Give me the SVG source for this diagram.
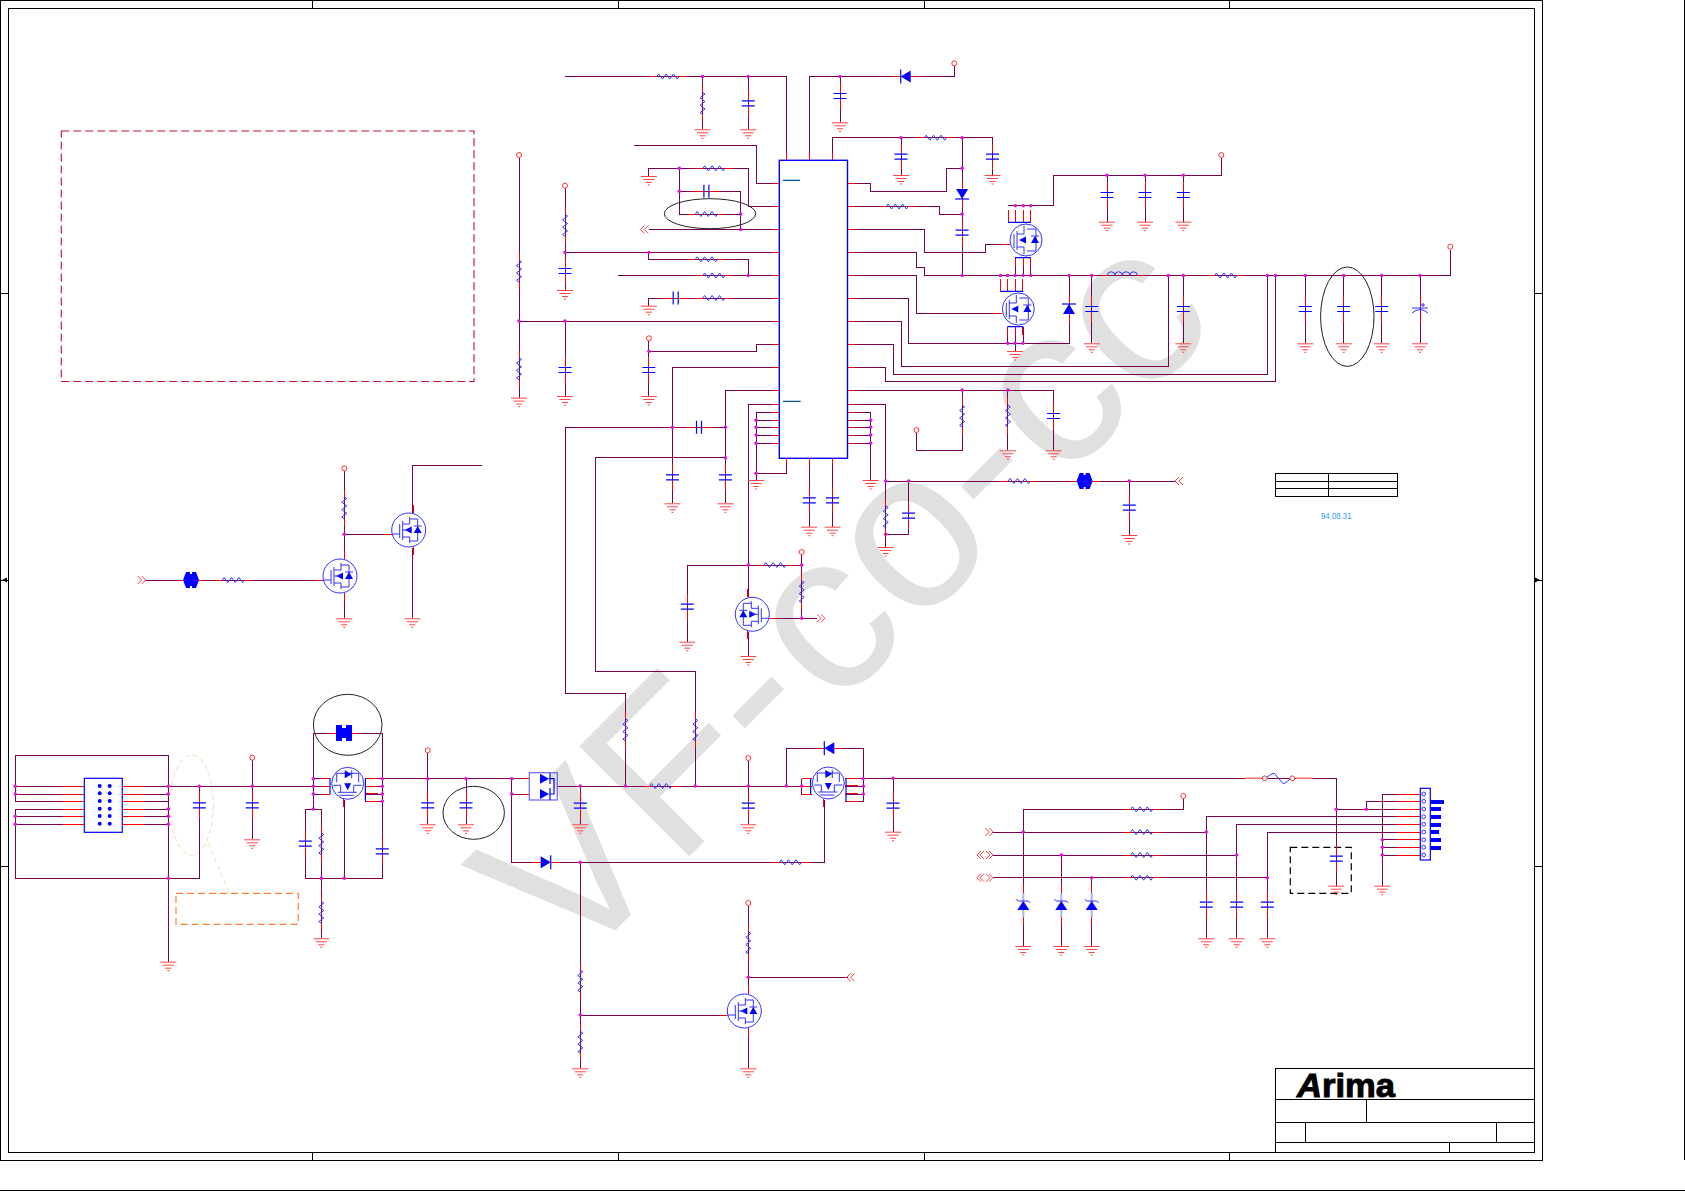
<svg xmlns="http://www.w3.org/2000/svg" width="1685" height="1191" viewBox="0 0 1685 1191">
<style>
.w{fill:none;stroke:#7a0050;stroke-width:1;shape-rendering:crispEdges}
.r{fill:none;stroke:#f00;stroke-width:1;shape-rendering:crispEdges}
.b{fill:none;stroke:#00f;stroke-width:1.2}
.t{fill:none;stroke:#33f;stroke-width:1}
.s{fill:#00f;stroke:none}
.k{fill:none;stroke:#000;stroke-width:1;shape-rendering:crispEdges}
.e{fill:none;stroke:#222;stroke-width:1}
.g{fill:none;stroke:#f44;stroke-width:1}
.a{fill:none;stroke:#f44;stroke-width:1}
</style>
<defs>
<circle id="n" r="1.8" fill="#e010e0"/>
<g id="rh"><path class="r" d="M-18 0H-11M11 0H18"/><path class="t" d="M-11 0l1.8-2.5 3.7 5 3.7-5 3.7 5 3.7-5 3.7 5 1.8-2.5"/></g>
<g id="rv" transform="rotate(90)"><use href="#rh"/></g>
<g id="cv"><path class="r" d="M0-13V-2.5M0 2.5V13"/><path class="b" d="M-6.5-2.5H6.5M-6.5 2.5H6.5"/></g>
<g id="ch" transform="rotate(90)"><use href="#cv"/></g>
<g id="gd"><path class="g" d="M-8 .5H8M-5.5 3.5H5.5M-3 6.5H3"/><path class="g" d="M-1 9H1" stroke-width="1.5"/></g>
<circle id="vc" r="2.5" fill="#fff" stroke="#f33" stroke-width="1"/>
<g id="dl"><path class="r" d="M-13 0H-5M5 0H13"/><path class="s" d="M-5 0L5-6V6z"/><path class="b" d="M-5-7V7"/></g>
<g id="zu"><path d="M0-12V12" fill="none" stroke="#aab0ff" stroke-width="2"/><path class="r" d="M0-20V-12M0 12V20"/><path class="s" d="M-6 5H6L0-4z"/><path class="t" d="M-7-6L-5-4H5L7-2"/></g>
<path id="j1" class="s" d="M-8 0L-5-8H-1V-6H1V-8H5L8 0L5 8H1V6H-1V8H-5z"/>
<path id="j2" class="s" d="M-8-8H-2V-5H2V-8H8V8H2V5H-2V8H-8z"/>
<path id="al" class="a" d="M-1-4L-5 0L-1 4M3-4L-1 0L3 4"/>
<path id="ar" class="a" d="M1-4L5 0L1 4M-3-4L1 0L-3 4"/>
<path id="ab" class="a" d="M-4-4L-8 0L-4 4M-1-4L-5 0L-1 4M4-4L8 0L4 4M1-4L5 0L1 4"/>
<g id="mn"><circle class="t" r="17"/><path class="r" d="M4.3-17V-25M4.3 17V25M-17 4H-25"/><path class="t" d="M1-13V-6H-6M1 13V7H-6M-6-9V10M-9-6V8M-17 4H-9M1-11H9V11H1"/><path class="s" d="M-4 0L3-3.5V3.5zM5 3H13L9-4z"/><path class="t" d="M5-4H13M-6 0H1"/></g>
<g id="mq"><path class="r" d="M-18-18V-30M-10.6-18V-30M-2.8-18V-30M4.7-18V-30M-11 18V26M-3 18V26M4.7 18V26M-16 4.3H-24"/><circle class="t" r="16"/><path class="b" d="M-18-17.7H5M-11 17.7H5"/><path class="t" d="M-2-14V-6H-9M-2 14V7H-9M-9-9V10M-12-6V8M1-11H10V11H1"/><path class="s" d="M-7 0L0-3.5V3.5zM5 3H13L9-4z"/><path class="t" d="M5-4H13"/></g>
</defs>
<text id="watermark" font-family="Liberation Sans, sans-serif" font-size="226" fill="#e0e0e0" x="0 150.7 288.8 374 487 612.6 695 808" transform="translate(569.7 975.7) rotate(-45)">VF-co-cc</text>
<g id="frame">
<path class="k" d="M.5.5H1542V1160H.5zM8.3 8.6H1534.3V1152H8.3z"/>
<path class="k" d="M312.7.5V8.6M618 .5V8.6M924 .5V8.6M1229.4.5V8.6M312.7 1152V1160M618 1152V1160M924 1152V1160M1229.4 1152V1160M.5 293H8.3M.5 580H8.3M.5 866.7H8.3M1534.3 293H1542M1534.3 580H1542M1534.3 866.7H1542"/>
<path d="M2 580L7 577.5V582.5zM1540 580L1535 577.5V582.5z" fill="#000"/>
<path class="k" d="M1684.5 0V1160M0 1190.5H1685"/>
</g>
<g id="title-block">
<path class="k" d="M1275.3 1068.7H1534.3V1152H1275.3zM1275.3 1099.3H1534.3M1275.3 1122H1534.3M1275.3 1142.3H1534.3M1366.7 1099.3V1122M1305.3 1122V1142.3M1496.3 1122V1142.3M1449.3 1142.3V1152"/>
<text x="1297" y="1096.5" font-family="Liberation Sans, sans-serif" font-weight="700" font-size="34" textLength="98" lengthAdjust="spacingAndGlyphs" stroke="#000" stroke-width="1"><tspan font-style="italic">A</tspan>rima</text>
</g>
<g id="note-box"><rect x="61.3" y="131" width="412.7" height="250.5" fill="none" stroke="#c01030" stroke-width="1.1" stroke-dasharray="8 4"/></g>
<g id="rev-table"><path class="k" d="M1275.3 473.3H1397.3V496.3H1275.3zM1275.3 481.3H1397.3M1275.3 488.3H1397.3M1328.3 473.3V496.3"/></g>
<text id="date" x="1321" y="518.5" font-family="Liberation Sans, sans-serif" font-size="9.5" fill="#39f" textLength="30.5" lengthAdjust="spacingAndGlyphs">94.08.31</text>
<g id="marks">
<ellipse class="e" cx="710" cy="213.7" rx="45.7" ry="15"/>
<ellipse class="e" cx="1347.3" cy="316.7" rx="26.7" ry="49.7"/>
<ellipse class="e" cx="347.7" cy="724.8" rx="34.3" ry="30.5"/>
<ellipse class="e" cx="473.7" cy="812.8" rx="30.7" ry="26.5"/>
<ellipse cx="191.7" cy="805" rx="21.7" ry="50" fill="none" stroke="#ffd8b0" stroke-dasharray="5 3"/>
<path d="M208.3 843.3L229.3 893.3" fill="none" stroke="#ffd8b0" stroke-dasharray="5 3"/>
<rect x="176" y="893.3" width="122.3" height="31" fill="none" stroke="#ff8030" stroke-width="1.2" stroke-dasharray="7 4"/>
<rect x="1290.3" y="847.3" width="61" height="46" fill="none" stroke="#000" stroke-width="1.2" stroke-dasharray="7 4"/>
</g>
<g id="connectors">
<path class="w" d="M565 76.5H786.4V160.3M702.5 76.5V129.3M748.2 76.5V129.3M809.3 160.3V76.5H954.3V66M840 76.5V122.3M832.5 160.3V137.7H992.5V175M901 137.7V175M962.1 137.7V275.5"/>
<path class="w" d="M847.5 183.5H870.7V191.3H946.4V168.3H962.1M847.5 206.5H939.3V214H962.1M847.5 229.5H924.6V252.5H985.7V244.3H1008M847.5 252.5H916.4V267.7H924.6V275.5H1450.3V250M847.5 275.5H916.4V313.3H1000M847.5 298H908.6V343.3H1069V275.5M847.5 321H901.4V366.3H1168.3V275.5M847.5 344H893.6V374.3H1267.3V275.5M847.5 367H885.7V381.7H1275.3V275.5"/>
<path class="w" d="M847.5 390H1053.6V450.3M962.1 390V450.3H916.4V433M1007.9 390V450.3M847.5 404.3H885.7V547M885.7 481H1176M908.6 481V534.3H885.7M847.5 412.3H870.7V480M847.5 420.3H870.7M847.5 427.3H870.7M847.5 435H870.7M847.5 443.3H870.7"/>
<path class="w" d="M779.3 412.3H756.1V480M779.3 420.3H756.1M779.3 427.3H756.1M779.3 435H756.1M779.3 443.3H756.1M786.4 458.3V473.3H756.1M809.3 458.3V526.7M832.5 458.3V526.7"/>
<path class="w" d="M779.3 183.5H756.4V145.7H633.6M779.3 206.5H748.2V168.3H648.9V176M679.3 168.3V214H740.7M679.3 191.3H740.7V229.5M779.3 229.5H649M779.3 252.5H565M565 188V290M648.9 252.5V259.3H748.2V275.5M779.3 275.5H617.9M779.3 298H648.9V305.7M779.3 321H519M519 158V397.6M565 321V396M779.3 344H756.4V351.3H648.9M648.9 341V396"/>
<path class="w" d="M779.3 367H672.5V503.3M779.3 390H725.4V503.3M565.7 427.3H725.4M565.7 427.3V693H625.4V786M725.4 457.7H595.4V671.6H695.3V786M779.3 404.3H748.2V597M687.3 641.7V565H801.7V618.3M801.7 555V565M770 618.3H817M748.3 632V656"/>
<path class="w" d="M1007.9 205.7H1053.6V175.3H1221.3V158M1107 175.3V221.7M1145 175.3V221.7M1183.3 175.3V221.7M1015 258V275.5M1023 258V275.5M1030.7 258V275.5M1015 326.7V351M1007.7 326.7V343.3M1023 326.7V343.3M1091.7 275.5V343.3M1183.3 275.5V343.3M1305.3 275.5V343.3M1343.7 275.5V343.3M1381.7 275.5V343.3M1420 275.5V343.3M1129.3 481V535"/>
<path class="w" d="M145 580H322.7M344.3 471V558M344.3 594V618.3M344.3 534.3H391.7M412.3 512.7V465.3H481.7M412.3 548.3V618.3"/>
<path class="w" d="M15.3 786.3H84.3M15.3 794H84.3M15.3 801.3H84.3M15.3 809H84.3M15.3 816.3H84.3M15.3 824.3H84.3M122.3 786.3H168.3M122.3 794H168.3M122.3 801.3H168.3M122.3 809H168.3M122.3 816.3H168.3M122.3 824.3H168.3M15.3 801.3V755.3H168.3V961.7M15.3 809V878.3H199.3V786.3M168.3 786.3H313.3M252.3 760V839.3M313.3 809V733H382.3V878.3H305.3V809H321.3V938.3M313.3 778.7H330M313.3 786.3H330M313.3 794H330M365 778.7H382.3M365 786.3H382.3M365 794H382.3M365 801.3H382.3M344.3 800V878.3"/>
<path class="w" d="M382.3 778.7H529.3M511.7 778.7V862.3H824.3V800M511.7 794H529.3M427.7 753V824.3M466 778.7V824.3M557.3 786H811.7M580.3 786V824.3M748.3 761V824.3M786.3 786V748.3H863.3V801.3H845M845 778.7H863.3M845 786.3H863.3M845 794H863.3M801.7 778.7H811.7M801.7 778.7V794H811.7M863.3 778.3H1336.3V885.7M893 778.3V831.7M580.3 862.3V1068.3M580.3 1015H726.7M748.3 906V993M748.3 1030V1068.3M748.3 977.3H848"/>
<path class="w" d="M1183.3 799V809.3H1023.3V946M992 832H1206.3M993 855H1236.7M993 877.7H1267.3M1061.3 855V946M1091.7 877.7V946M1206.3 816.7H1420M1206.3 816.7V938.3M1236.7 824.3H1420M1236.7 824.3V938.3M1267.3 832H1420M1267.3 832V938.3M1336.3 809.3H1420M1366.3 809.3V801.3H1420M1382.3 794H1420M1382.3 794V885.7M1382.3 839.7H1420M1382.3 847.3H1420M1382.3 855H1420"/>
<g id="junctions">
<use href="#n" x="702.5" y="76.5"/><use href="#n" x="748.2" y="76.5"/><use href="#n" x="840" y="76.5"/><use href="#n" x="901" y="137.7"/><use href="#n" x="962.1" y="137.7"/><use href="#n" x="962.1" y="168.3"/><use href="#n" x="962.1" y="214"/><use href="#n" x="962.1" y="275.5"/>
<use href="#n" x="679.3" y="168.3"/><use href="#n" x="679.3" y="191.3"/><use href="#n" x="740.7" y="214"/><use href="#n" x="740.7" y="229.5"/><use href="#n" x="565" y="252.5"/><use href="#n" x="648.9" y="252.5"/><use href="#n" x="748.2" y="275.5"/><use href="#n" x="519" y="321"/><use href="#n" x="565" y="321"/><use href="#n" x="648.9" y="351.3"/><use href="#n" x="672.5" y="427.3"/><use href="#n" x="725.4" y="427.3"/><use href="#n" x="725.4" y="457.7"/>
<use href="#n" x="756.1" y="420.3"/><use href="#n" x="756.1" y="427.3"/><use href="#n" x="756.1" y="435"/><use href="#n" x="756.1" y="443.3"/><use href="#n" x="756.1" y="473.3"/><use href="#n" x="870.7" y="420.3"/><use href="#n" x="870.7" y="427.3"/><use href="#n" x="870.7" y="435"/><use href="#n" x="870.7" y="443.3"/>
<use href="#n" x="962.1" y="390"/><use href="#n" x="1007.9" y="390"/><use href="#n" x="885.7" y="481"/><use href="#n" x="908.6" y="481"/><use href="#n" x="885.7" y="534.3"/><use href="#n" x="1129.3" y="481"/>
<use href="#n" x="1015.4" y="205.7"/><use href="#n" x="1023.2" y="205.7"/><use href="#n" x="1030.7" y="205.7"/><use href="#n" x="1107" y="175.3"/><use href="#n" x="1145" y="175.3"/><use href="#n" x="1183.3" y="175.3"/>
<use href="#n" x="1000.4" y="275.5"/><use href="#n" x="1007.7" y="275.5"/><use href="#n" x="1015" y="275.5"/><use href="#n" x="1023" y="275.5"/><use href="#n" x="1030.7" y="275.5"/><use href="#n" x="1069" y="275.5"/><use href="#n" x="1091.7" y="275.5"/><use href="#n" x="1168.3" y="275.5"/><use href="#n" x="1183.3" y="275.5"/><use href="#n" x="1267.3" y="275.5"/><use href="#n" x="1275.3" y="275.5"/><use href="#n" x="1305.3" y="275.5"/><use href="#n" x="1343.7" y="275.5"/><use href="#n" x="1381.7" y="275.5"/><use href="#n" x="1420" y="275.5"/>
<use href="#n" x="1007.7" y="343.3"/><use href="#n" x="1015" y="343.3"/><use href="#n" x="1023" y="343.3"/>
<use href="#n" x="748.3" y="565"/><use href="#n" x="801.7" y="565"/><use href="#n" x="801.7" y="618.3"/><use href="#n" x="344.3" y="534.3"/>
<use href="#n" x="15.3" y="786.3"/><use href="#n" x="15.3" y="794"/><use href="#n" x="15.3" y="816.3"/><use href="#n" x="15.3" y="824.3"/><use href="#n" x="168.3" y="786.3"/><use href="#n" x="168.3" y="794"/><use href="#n" x="168.3" y="809"/><use href="#n" x="168.3" y="816.3"/><use href="#n" x="168.3" y="824.3"/><use href="#n" x="168.3" y="878.3"/><use href="#n" x="199.3" y="786.3"/><use href="#n" x="252.3" y="786.3"/>
<use href="#n" x="313.3" y="778.7"/><use href="#n" x="313.3" y="786.3"/><use href="#n" x="313.3" y="794"/><use href="#n" x="313.3" y="809"/><use href="#n" x="382.3" y="778.7"/><use href="#n" x="382.3" y="786.3"/><use href="#n" x="382.3" y="794"/><use href="#n" x="382.3" y="801.3"/><use href="#n" x="321.3" y="878.3"/><use href="#n" x="344.3" y="878.3"/><use href="#n" x="427.7" y="778.7"/><use href="#n" x="466" y="778.7"/><use href="#n" x="511.7" y="778.7"/><use href="#n" x="511.7" y="794"/>
<use href="#n" x="580.3" y="786"/><use href="#n" x="625.4" y="786"/><use href="#n" x="695.3" y="786"/><use href="#n" x="748.3" y="786"/><use href="#n" x="786.3" y="786"/><use href="#n" x="801.7" y="786"/><use href="#n" x="863.3" y="778.7"/><use href="#n" x="863.3" y="786.3"/><use href="#n" x="863.3" y="794"/><use href="#n" x="893" y="778.3"/><use href="#n" x="580.3" y="862.3"/><use href="#n" x="580.3" y="1015"/><use href="#n" x="748.3" y="977.3"/>
<use href="#n" x="1023.3" y="832"/><use href="#n" x="1061.3" y="855"/><use href="#n" x="1091.7" y="877.7"/><use href="#n" x="1206.3" y="832"/><use href="#n" x="1236.7" y="855"/><use href="#n" x="1267.3" y="877.7"/><use href="#n" x="1336.3" y="809.3"/><use href="#n" x="1366.3" y="809.3"/><use href="#n" x="1382.3" y="839.7"/><use href="#n" x="1382.3" y="847.3"/><use href="#n" x="1382.3" y="855"/>
</g>
</g>
<g id="U1">
<rect x="779.3" y="160.3" width="68.2" height="298" fill="none" stroke="#00f" stroke-width="1.4"/>
<path d="M783 180.3H800M783 401.3H800.7" fill="none" stroke="#005090" stroke-width="1.2"/>
<path class="r" d="M772 183.5H779.3M772 206.5H779.3M772 229.5H779.3M772 252.5H779.3M772 275.5H779.3M772 298H779.3M772 321H779.3M772 344H779.3M772 367H779.3M772 390H779.3M772 404.3H779.3M772 412.3H779.3M772 420.3H779.3M772 427.3H779.3M772 435H779.3M772 443.3H779.3M847.5 183.5H855M847.5 206.5H855M847.5 229.5H855M847.5 252.5H855M847.5 275.5H855M847.5 298H855M847.5 321H855M847.5 344H855M847.5 367H855M847.5 390H855M847.5 404.3H855M847.5 412.3H855M847.5 420.3H855M847.5 427.3H855M847.5 435H855M847.5 443.3H855M786.4 153V160.3M809.3 153V160.3M832.5 153V160.3M786.4 458.3V465M809.3 458.3V465M832.5 458.3V465"/>
</g>
<g id="R1"><use href="#rh" x="667.9" y="76.5"/></g>
<g id="R2"><use href="#rv" x="702.5" y="103.3"/></g>
<g id="C1"><use href="#cv" x="748.2" y="103.3"/></g>
<g id="G1"><use href="#gd" x="702.5" y="129.3"/></g>
<g id="G2"><use href="#gd" x="748.2" y="129.3"/></g>
<g id="D1"><use href="#dl" x="905.7" y="76.5"/></g>
<g id="V1"><use href="#vc" x="954.3" y="63.3"/></g>
<g id="C2"><use href="#cv" x="840" y="96"/></g>
<g id="G3"><use href="#gd" x="840" y="122.3"/></g>
<g id="R3"><use href="#rh" x="935.4" y="137.7"/></g>
<g id="C3"><use href="#cv" x="901" y="156.7"/></g>
<g id="G4"><use href="#gd" x="901" y="175"/></g>
<g id="C4"><use href="#cv" x="992.5" y="156.7"/></g>
<g id="G5"><use href="#gd" x="992.5" y="175"/></g>
<g id="D2" transform="translate(962.1 194) rotate(-90)"><use href="#dl"/></g>
<g id="C5"><use href="#cv" x="962.1" y="232.7"/></g>
<g id="R4"><use href="#rh" x="897.1" y="206.5"/></g>
<g id="R5"><use href="#rh" x="713.9" y="168.3"/></g>
<g id="G6"><use href="#gd" x="648.9" y="176"/></g>
<g id="C6"><use href="#ch" x="706.4" y="191.3"/></g>
<g id="R6"><use href="#rh" x="706.4" y="214"/></g>
<g id="A1"><use href="#al" x="645.4" y="229.5"/></g>
<g id="V2"><use href="#vc" x="565" y="185.7"/></g>
<g id="R7"><use href="#rv" x="565" y="225.3"/></g>
<g id="C7"><use href="#cv" x="565" y="271"/></g>
<g id="G7"><use href="#gd" x="565" y="290"/></g>
<g id="R8"><use href="#rh" x="706.4" y="259.3"/></g>
<g id="R9"><use href="#rh" x="713.9" y="275.5"/></g>
<g id="R10"><use href="#rh" x="713.9" y="298"/></g>
<g id="C8"><use href="#ch" x="675.7" y="298"/></g>
<g id="G8"><use href="#gd" x="648.9" y="305.7"/></g>
<g id="V3"><use href="#vc" x="519" y="155"/></g>
<g id="R11"><use href="#rv" x="519" y="271"/></g>
<g id="R12"><use href="#rv" x="519" y="368.6"/></g>
<g id="G9"><use href="#gd" x="519" y="397.6"/></g>
<g id="C9"><use href="#cv" x="565" y="370"/></g>
<g id="G10"><use href="#gd" x="565" y="396"/></g>
<g id="V4"><use href="#vc" x="648.9" y="338.3"/></g>
<g id="C10"><use href="#cv" x="648.9" y="370"/></g>
<g id="G11"><use href="#gd" x="648.9" y="396"/></g>
<g id="C11"><use href="#ch" x="699" y="427.3"/></g>
<g id="C12"><use href="#cv" x="672.5" y="477.3"/></g>
<g id="G12"><use href="#gd" x="672.5" y="503.3"/></g>
<g id="C13"><use href="#cv" x="725.4" y="477.3"/></g>
<g id="G13"><use href="#gd" x="725.4" y="503.3"/></g>
<g id="G14"><use href="#gd" x="756.1" y="480"/></g>
<g id="G15"><use href="#gd" x="870.7" y="480"/></g>
<g id="C14"><use href="#cv" x="809.3" y="500.3"/></g>
<g id="G16"><use href="#gd" x="809.3" y="526.7"/></g>
<g id="C15"><use href="#cv" x="832.5" y="500.3"/></g>
<g id="G17"><use href="#gd" x="832.5" y="526.7"/></g>
<g id="R13"><use href="#rv" x="962.1" y="416"/></g>
<g id="V5"><use href="#vc" x="916.4" y="430"/></g>
<g id="R14"><use href="#rv" x="1007.9" y="416"/></g>
<g id="G18"><use href="#gd" x="1007.9" y="450.3"/></g>
<g id="C16"><use href="#cv" x="1053.6" y="416"/></g>
<g id="G19"><use href="#gd" x="1053.6" y="450.3"/></g>
<g id="R15"><use href="#rv" x="885.7" y="516.7"/></g>
<g id="C17"><use href="#cv" x="908.6" y="515.7"/></g>
<g id="G20"><use href="#gd" x="885.7" y="547"/></g>
<g id="R16"><use href="#rh" x="1019.3" y="481"/></g>
<g id="J1"><path class="r" d="M1070 481H1100"/><use href="#j1" x="1084.6" y="481"/></g>
<g id="C18"><use href="#cv" x="1129.3" y="507.7"/></g>
<g id="G21"><use href="#gd" x="1129.3" y="535"/></g>
<g id="A2"><use href="#al" x="1180" y="481"/></g>
<g id="Q1"><use href="#mq" x="1026" y="240"/></g>
<g id="Q2"><use href="#mq" x="1018.3" y="309"/></g>
<g id="G22"><use href="#gd" x="1015" y="351"/></g>
<g id="D3" transform="translate(1069 309) rotate(90)"><use href="#dl"/></g>
<g id="C19"><use href="#cv" x="1091.7" y="309"/></g>
<g id="G23"><use href="#gd" x="1091.7" y="343.3"/></g>
<g id="L1"><path class="r" d="M1101 275.5H1107.3M1137.3 275.5H1144"/><path class="t" d="M1107.3 275.5a3.75 3.75 0 0 1 7.5 0a3.75 3.75 0 0 1 7.5 0a3.75 3.75 0 0 1 7.5 0a3.75 3.75 0 0 1 7.5 0"/></g>
<g id="C20"><use href="#cv" x="1183.3" y="309"/></g>
<g id="G24"><use href="#gd" x="1183.3" y="343.3"/></g>
<g id="R17"><use href="#rh" x="1225.7" y="275.5"/></g>
<g id="C21"><use href="#cv" x="1305.3" y="309"/></g>
<g id="G25"><use href="#gd" x="1305.3" y="343.3"/></g>
<g id="C22"><use href="#cv" x="1343.7" y="309"/></g>
<g id="G26"><use href="#gd" x="1343.7" y="343.3"/></g>
<g id="C23"><use href="#cv" x="1381.7" y="309"/></g>
<g id="G27"><use href="#gd" x="1381.7" y="343.3"/></g>
<g id="C24"><path class="r" d="M1420 296V307M1420 313V322"/><path class="t" d="M1412 308H1428M1412 313Q1420 306 1428 313M1423 303V307M1421 305H1425"/></g>
<g id="G28"><use href="#gd" x="1420" y="343.3"/></g>
<g id="V6"><use href="#vc" x="1450.3" y="246.7"/></g>
<g id="V7"><use href="#vc" x="1221.3" y="155"/></g>
<g id="C25"><use href="#cv" x="1107" y="195"/></g>
<g id="G29"><use href="#gd" x="1107" y="221.7"/></g>
<g id="C26"><use href="#cv" x="1145" y="195"/></g>
<g id="G30"><use href="#gd" x="1145" y="221.7"/></g>
<g id="C27"><use href="#cv" x="1183.3" y="195"/></g>
<g id="G31"><use href="#gd" x="1183.3" y="221.7"/></g>
<g id="Q3" transform="translate(752.3 614.3) scale(-1 1)"><use href="#mn"/></g>
<g id="R18"><use href="#rh" x="775" y="565"/></g>
<g id="V8"><use href="#vc" x="801.7" y="552"/></g>
<g id="R19"><use href="#rv" x="801.7" y="591.7"/></g>
<g id="A3"><use href="#ar" x="820" y="618.3"/></g>
<g id="C28"><use href="#cv" x="687.3" y="606.7"/></g>
<g id="G32"><use href="#gd" x="687.3" y="641.7"/></g>
<g id="G33"><use href="#gd" x="748.3" y="656"/></g>
<g id="A4"><use href="#ar" x="140.7" y="580"/></g>
<g id="J2"><path class="r" d="M177 580H205"/><use href="#j1" x="191" y="580"/></g>
<g id="R20"><use href="#rh" x="233.3" y="580"/></g>
<g id="Q4"><use href="#mn" x="340" y="576"/></g>
<g id="V9"><use href="#vc" x="344.3" y="468.3"/></g>
<g id="R21"><use href="#rv" x="344.3" y="507.7"/></g>
<g id="G34"><use href="#gd" x="344.3" y="618.3"/></g>
<g id="Q5"><use href="#mn" x="408.7" y="530"/></g>
<g id="G35"><use href="#gd" x="412.3" y="618.3"/></g>
<g id="P1"><rect x="84.3" y="778.3" width="38" height="54" fill="#fff" stroke="#00f" stroke-width="1.2"/>
<path class="r" d="M62 786.3H84.3M62 794H84.3M62 801.3H84.3M62 809H84.3M62 816.3H84.3M62 824.3H84.3M122.3 786.3H145M122.3 794H145M122.3 801.3H145M122.3 809H145M122.3 816.3H145M122.3 824.3H145"/>
<g class="s"><circle cx="99.7" cy="786" r="2"/><circle cx="109.7" cy="786" r="2"/><circle cx="99.7" cy="793.3" r="2"/><circle cx="109.7" cy="793.3" r="2"/><circle cx="99.7" cy="801" r="2"/><circle cx="109.7" cy="801" r="2"/><circle cx="99.7" cy="808.7" r="2"/><circle cx="109.7" cy="808.7" r="2"/><circle cx="99.7" cy="816" r="2"/><circle cx="109.7" cy="816" r="2"/><circle cx="99.7" cy="823.7" r="2"/><circle cx="109.7" cy="823.7" r="2"/></g></g>
<g id="G36"><use href="#gd" x="168.3" y="961.7"/></g>
<g id="C29"><use href="#cv" x="199.3" y="805.3"/></g>
<g id="V10"><use href="#vc" x="252.3" y="757.7"/></g>
<g id="C30"><use href="#cv" x="252.3" y="805.3"/></g>
<g id="G37"><use href="#gd" x="252.3" y="839.3"/></g>
<g id="J3"><path class="r" d="M330 733H358"/><use href="#j2" x="344" y="733"/></g>
<g id="Q6" transform="matrix(0 -1 -1 0 347.7 783.3)"><use href="#mq"/></g>
<g id="C31"><use href="#cv" x="305.3" y="843.7"/></g>
<g id="R22"><use href="#rv" x="321.3" y="843.7"/></g>
<g id="C32"><use href="#cv" x="382.3" y="851.3"/></g>
<g id="R23"><use href="#rv" x="321.3" y="912.3"/></g>
<g id="G38"><use href="#gd" x="321.3" y="938.3"/></g>
<g id="V11"><use href="#vc" x="427.7" y="750.3"/></g>
<g id="C33"><use href="#cv" x="427.7" y="805.3"/></g>
<g id="G39"><use href="#gd" x="427.7" y="824.3"/></g>
<g id="C34"><use href="#cv" x="466" y="805.3"/></g>
<g id="G40"><use href="#gd" x="466" y="824.3"/></g>
<g id="D4"><rect x="529.3" y="772.7" width="28" height="27.3" fill="none" stroke="#66f" stroke-width="1.2"/><path class="s" d="M540 773.7L549 778.7L540 783.7zM540 789L549 794L540 799z"/><path class="b" d="M550 773V784M550 788V800M549 778.7H554V794H549"/><path class="r" d="M522 778.7H529M522 794H529"/></g>
<g id="C35"><use href="#cv" x="580.3" y="805.7"/></g>
<g id="G41"><use href="#gd" x="580.3" y="824.3"/></g>
<g id="R24"><use href="#rv" x="625.4" y="729.7"/></g>
<g id="R25"><use href="#rv" x="695.3" y="729.7"/></g>
<g id="R26"><use href="#rh" x="660.7" y="786"/></g>
<g id="V12"><use href="#vc" x="748.3" y="758"/></g>
<g id="C36"><use href="#cv" x="748.3" y="805.7"/></g>
<g id="G42"><use href="#gd" x="748.3" y="824.3"/></g>
<g id="D5"><use href="#dl" x="829.3" y="748.3"/></g>
<g id="Q7" transform="matrix(0 -1 -1 0 828.3 783)"><use href="#mq"/></g>
<g id="C37"><use href="#cv" x="893" y="805.7"/></g>
<g id="G43"><use href="#gd" x="893" y="831.7"/></g>
<g id="D6" transform="translate(545.7 862.3) rotate(180)"><use href="#dl"/></g>
<g id="R27"><use href="#rh" x="790.3" y="862.3"/></g>
<g id="R28"><use href="#rv" x="580.3" y="981"/></g>
<g id="R29"><use href="#rv" x="580.3" y="1042.3"/></g>
<g id="G44"><use href="#gd" x="580.3" y="1068.3"/></g>
<g id="V13"><use href="#vc" x="748.3" y="903"/></g>
<g id="R30"><use href="#rv" x="748.3" y="942.7"/></g>
<g id="Q8"><use href="#mn" x="744.3" y="1011"/></g>
<g id="A5"><use href="#al" x="851.7" y="977.3"/></g>
<g id="G45"><use href="#gd" x="748.3" y="1068.3"/></g>
<g id="F1"><path d="M1245 778.3H1261M1296 778.3H1312.7" fill="none" stroke="#ff7070" stroke-width="1.4"/><circle cx="1264.7" cy="778.3" r="2.4" fill="#fff" stroke="#f33"/><circle cx="1292.3" cy="778.3" r="2.4" fill="#fff" stroke="#f33"/><path class="t" d="M1267 777Q1273 773 1274 773L1283 783.5Q1285 784 1290 779"/></g>
<g id="C38"><use href="#cv" x="1336.3" y="858.7"/></g>
<g id="G46"><use href="#gd" x="1336.3" y="885.7"/></g>
<g id="G47"><use href="#gd" x="1382.3" y="885.7"/></g>
<g id="P2"><path class="r" d="M1397 794H1420M1397 801.3H1420M1397 809.3H1420M1397 816.7H1420M1397 824.3H1420M1397 832H1420M1397 839.7H1420M1397 847.3H1420M1397 855H1420"/><rect x="1420.3" y="788.3" width="10" height="71.7" fill="#fff" stroke="#00f" stroke-width="1.2"/>
<g fill="none" stroke="#33f"><circle cx="1423.7" cy="794" r="1.9"/><circle cx="1423.7" cy="801.3" r="1.9"/><circle cx="1423.7" cy="809" r="1.9"/><circle cx="1423.7" cy="816.7" r="1.9"/><circle cx="1423.7" cy="824.3" r="1.9"/><circle cx="1423.7" cy="832" r="1.9"/><circle cx="1423.7" cy="839.7" r="1.9"/><circle cx="1423.7" cy="847.3" r="1.9"/><circle cx="1423.7" cy="855" r="1.9"/></g>
<path class="s" d="M1430.3 800H1444V804H1430.3zM1430.3 807H1441V811H1430.3zM1430.3 815H1441V819H1430.3zM1430.3 823H1441V827H1430.3zM1430.3 830H1439V834H1430.3zM1430.3 838H1441V842H1430.3zM1430.3 846H1441V850H1430.3z"/></g>
<g id="V14"><use href="#vc" x="1183.3" y="796"/></g>
<g id="R31"><use href="#rh" x="1141.7" y="809.3"/></g>
<g id="R32"><use href="#rh" x="1141.7" y="832"/></g>
<g id="R33"><use href="#rh" x="1141.7" y="855"/></g>
<g id="R34"><use href="#rh" x="1141.7" y="877.7"/></g>
<g id="A6"><use href="#ar" x="988.3" y="832"/></g>
<g id="A7"><use href="#ab" x="985" y="855"/></g>
<g id="A8"><use href="#ab" x="985" y="877.7"/></g>
<g id="Z1"><use href="#zu" x="1023.3" y="905"/></g>
<g id="Z2"><use href="#zu" x="1061.3" y="905"/></g>
<g id="Z3"><use href="#zu" x="1091.7" y="905"/></g>
<g id="G48"><use href="#gd" x="1023.3" y="946"/></g>
<g id="G49"><use href="#gd" x="1061.3" y="946"/></g>
<g id="G50"><use href="#gd" x="1091.7" y="946"/></g>
<g id="C39"><use href="#cv" x="1206.3" y="904.7"/></g>
<g id="C40"><use href="#cv" x="1236.7" y="904.7"/></g>
<g id="C41"><use href="#cv" x="1267.3" y="904.7"/></g>
<g id="G51"><use href="#gd" x="1206.3" y="938.3"/></g>
<g id="G52"><use href="#gd" x="1236.7" y="938.3"/></g>
<g id="G53"><use href="#gd" x="1267.3" y="938.3"/></g>
</svg>
